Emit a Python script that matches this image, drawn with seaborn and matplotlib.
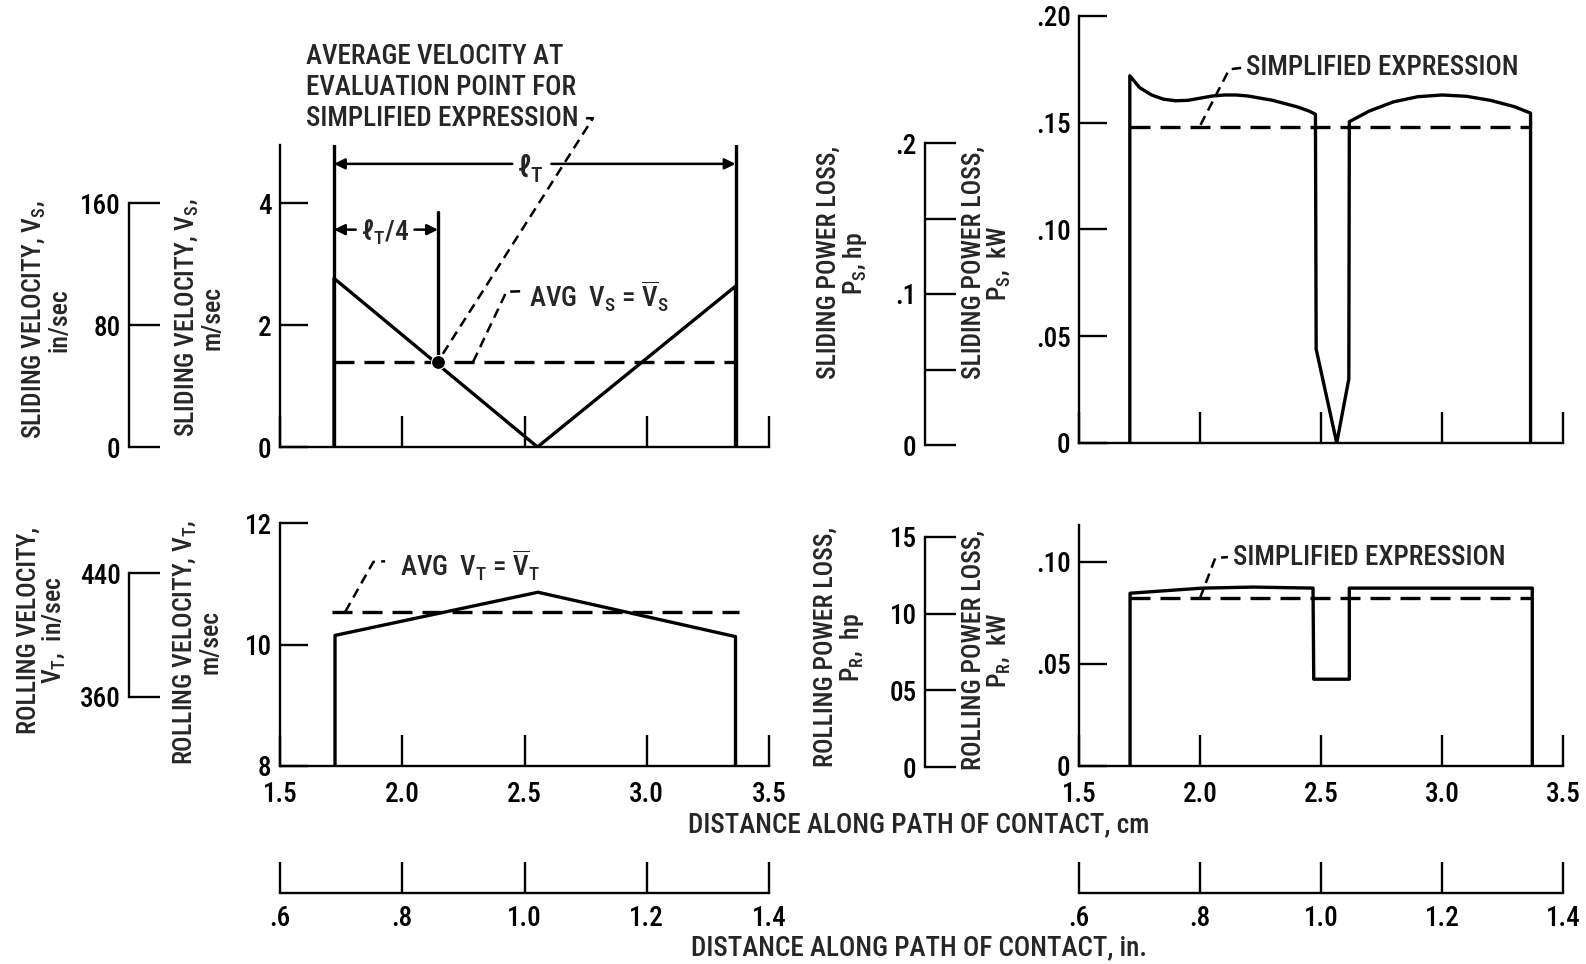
import matplotlib
matplotlib.use("Agg")
import matplotlib.pyplot as plt
import seaborn as sns

# ---------------- data ----------------
cm_ticks = [1.5, 2.0, 2.5, 3.0, 3.5]
cm_labels = ["1.5", "2.0", "2.5", "3.0", "3.5"]
in_ticks = [0.6, 0.8, 1.0, 1.2, 1.4]
in_labels = [".6", ".8", "1.0", "1.2", "1.4"]

# sliding velocity, m/sec
vs_x = [1.721, 1.721, 2.553, 3.363, 3.363]
vs_y = [0.0, 2.77, 0.0, 2.64, 0.0]
vs_avg = 1.40
lt_start, lt_end = 1.721, 3.363
eval_x = 2.146
vs_ticks = [0, 2, 4]
vs_in_ticks = [0, 80, 160]

# rolling velocity, m/sec
vt_x = [1.725, 1.725, 2.555, 3.363, 3.363]
vt_y = [8.0, 10.15, 10.86, 10.13, 8.0]
vt_avg = 10.54
vt_ticks = [8, 10, 12]
vt_in_ticks = [360, 440]

# sliding power loss, kW
ps_x = [1.71, 1.71, 1.75, 1.80, 1.85, 1.90, 1.95, 2.00, 2.05, 2.10, 2.15, 2.20,
        2.25, 2.30, 2.35, 2.40, 2.45, 2.477, 2.48, 2.565, 2.615, 2.617, 2.70,
        2.80, 2.90, 3.00, 3.10, 3.20, 3.30, 3.366, 3.366]
ps_y = [0.0, 0.172, 0.1665, 0.163, 0.161, 0.1603, 0.1605, 0.1615, 0.1625, 0.163,
        0.163, 0.1625, 0.1615, 0.1605, 0.159, 0.1575, 0.1555, 0.154, 0.044, 0.0,
        0.030, 0.1505, 0.1555, 0.1598, 0.1622, 0.163, 0.1624, 0.1605, 0.1575,
        0.1545, 0.0]
ps_simplified = 0.148
ps_ticks = [0, 0.05, 0.10, 0.15, 0.20]
ps_labels = ["0", ".05", ".10", ".15", ".20"]
ps_hp_ticks = [0, 0.05, 0.10, 0.15, 0.20]
ps_hp_labels = ["0", "", ".1", "", ".2"]

# rolling power loss, kW
pr_x = [1.711, 1.711, 2.01, 2.22, 2.467, 2.47, 2.617, 2.617, 3.373, 3.373]
pr_y = [0.0, 0.0846, 0.0871, 0.0876, 0.0871, 0.0425, 0.0425, 0.0871, 0.0871, 0.0]
pr_simplified = 0.0822
pr_ticks = [0, 0.05, 0.10]
pr_labels = ["0", ".05", ".10"]
pr_hp_ticks = [0, 0.05, 0.10, 0.15]
pr_hp_labels = ["0", "05", "10", "15"]

# ---------------- style ----------------
sns.set_theme(style="white")
NARROW = ["Roboto Condensed", "IBM Plex Sans Condensed", "DejaVu Sans"]
plt.rcParams["font.family"] = NARROW
plt.rcParams["font.weight"] = "medium"
plt.rcParams["mathtext.default"] = "regular"

W, H = 1586, 964
fig = plt.figure(figsize=(W / 100, H / 100), dpi=100)
fig.patch.set_facecolor("white")

LW = 2.4
SPW = 1.7
TICKFS = 19.5
ANNFS = 19.5
LABFS = 18.5
WT = "medium"


def add_px(x0, y0, x1, y1):
    return fig.add_axes([x0 / W, 1 - y1 / H, (x1 - x0) / W, (y1 - y0) / H])


def fmt_labels(labels):
    for lab in labels:
        lab.set_family(NARROW)
        lab.set_fontsize(TICKFS)
        lab.set_fontweight(WT)


def style_main(ax, xlim, ylim, yticks, ylabels, show_x):
    ax.set_xlim(*xlim)
    ax.set_ylim(*ylim)
    ax.patch.set_visible(False)
    for s in ["top", "right"]:
        ax.spines[s].set_visible(False)
    for s in ["left", "bottom"]:
        ax.spines[s].set_visible(True)
        ax.spines[s].set_color("black")
        ax.spines[s].set_linewidth(SPW)
    ax.set_xticks(cm_ticks)
    ax.set_xticklabels(cm_labels if show_x else [""] * len(cm_ticks))
    ax.set_yticks(yticks)
    ax.set_yticklabels(ylabels)
    fmt_labels(ax.get_xticklabels() + ax.get_yticklabels())
    ax.tick_params(axis="x", direction="in", length=22, width=SPW, pad=11,
                   bottom=True, colors="black")
    ax.tick_params(axis="y", direction="in", length=20, width=SPW, pad=6,
                   left=True, colors="black")
    ax.set_xlabel("")
    ax.set_ylabel("")


def scale_axis(box, ylim, ticks, labels, bounds):
    ax = add_px(*box)
    ax.set_xlim(0, 1)
    ax.set_ylim(*ylim)
    ax.patch.set_visible(False)
    for s in ["top", "right", "bottom"]:
        ax.spines[s].set_visible(False)
    ax.spines["left"].set_visible(True)
    ax.spines["left"].set_color("black")
    ax.spines["left"].set_linewidth(SPW)
    ax.spines["left"].set_bounds(*bounds)
    ax.set_xticks([])
    ax.set_yticks(ticks)
    ax.set_yticklabels(labels)
    fmt_labels(ax.get_yticklabels())
    ax.tick_params(axis="y", direction="in", length=22, width=SPW, pad=6,
                   left=True, colors="black")
    return ax


def inch_axis(box):
    ax = add_px(*box)
    ax.set_xlim(0.6, 1.4)
    ax.set_ylim(0, 1)
    ax.patch.set_visible(False)
    for s in ["top", "right", "left"]:
        ax.spines[s].set_visible(False)
    ax.spines["bottom"].set_visible(True)
    ax.spines["bottom"].set_color("black")
    ax.spines["bottom"].set_linewidth(SPW)
    ax.set_yticks([])
    ax.set_xticks(in_ticks)
    ax.set_xticklabels(in_labels)
    fmt_labels(ax.get_xticklabels())
    ax.tick_params(axis="x", direction="in", length=22, width=SPW, pad=9,
                   bottom=True, colors="black")
    return ax


def line(ax, x, y, dashed=False, lw=LW, dash=(6, 3)):
    kw = dict(color="black", lw=lw, sort=False, estimator=None, legend=False, ax=ax)
    if dashed:
        kw["linestyle"] = (0, dash)
    sns.lineplot(x=x, y=y, **kw)


def leader(ax, xs, ys):
    ax.plot(xs, ys, color="black", lw=1.8, linestyle=(0, (4, 2.5)), clip_on=False)


def ylab(x, y, s):
    fig.text(x / W, 1 - y / H, s, rotation=90, ha="center", va="center",
             multialignment="center", fontsize=LABFS, family=NARROW,
             fontweight=WT, linespacing=1.0)


def ann(ax, x, y, s, fs=ANNFS, **kw):
    ax.text(x, y, s, fontsize=fs, family=NARROW, fontweight=WT, **kw)


# ---------------- top-left: sliding velocity ----------------
ax_tl = add_px(280, 145, 769, 447)
line(ax_tl, vs_x, vs_y)
line(ax_tl, [lt_start, lt_end], [vs_avg, vs_avg], dashed=True)
top_tl = 4.96
ax_tl.plot([lt_start, lt_start], [0, top_tl], color="black", lw=LW)
ax_tl.plot([lt_end, lt_end], [0, top_tl], color="black", lw=LW)
ax_tl.plot([eval_x, eval_x], [vs_avg, 3.86], color="black", lw=LW)
sns.scatterplot(x=[eval_x], y=[vs_avg], color="black", s=100, ax=ax_tl,
                legend=False, zorder=5)
style_main(ax_tl, (1.5, 3.5), (0, top_tl), vs_ticks, ["0", "2", "4"], False)

arrow_kw = dict(arrowstyle="-|>", color="black", lw=1.8, mutation_scale=16,
                shrinkA=0, shrinkB=0)
ax_tl.annotate("", xy=(lt_start, 4.65), xytext=(2.45, 4.65), arrowprops=arrow_kw)
ax_tl.annotate("", xy=(lt_end, 4.65), xytext=(2.61, 4.65), arrowprops=arrow_kw)
ann(ax_tl, 2.525, 4.58, r"$\ell_{\mathregular{T}}$", fs=22, ha="center", va="center")
ax_tl.annotate("", xy=(lt_start, 3.57), xytext=(1.81, 3.57), arrowprops=arrow_kw)
ax_tl.annotate("", xy=(eval_x, 3.57), xytext=(2.05, 3.57), arrowprops=arrow_kw)
ann(ax_tl, 1.93, 3.52, r"$\ell_{\mathregular{T}}\mathregular{/4}$", fs=20,
    ha="center", va="center")

ann(ax_tl, 1.605, 6.64,
    "AVERAGE VELOCITY AT\nEVALUATION POINT FOR\nSIMPLIFIED EXPRESSION",
    ha="left", va="top", linespacing=1.2)
leader(ax_tl, [eval_x + 0.02, 2.78, 2.73], [vs_avg + 0.13, 5.40, 5.40])
leader(ax_tl, [2.29, 2.426, 2.50], [vs_avg, 2.55, 2.56])
ann(ax_tl, 2.52, 2.47,
    r"AVG  $\mathregular{V_S}$ = $\mathregular{\overline{V}_S}$",
    ha="left", va="center")

scale_axis((129, 145, 175, 447), (0, top_tl * 40), vs_in_ticks,
           ["0", "80", "160"], (0, 160))

ylab(46, 320, "SLIDING VELOCITY, $\\mathregular{V_S}$,\nin/sec")
ylab(199, 318, "SLIDING VELOCITY, $\\mathregular{V_S}$,\nm/sec")

# ---------------- top-right: sliding power loss ----------------
ax_tr = add_px(1079, 16, 1563, 443)
line(ax_tr, ps_x, ps_y)
line(ax_tr, [ps_x[0], ps_x[-1]], [ps_simplified, ps_simplified], dashed=True)
style_main(ax_tr, (1.5, 3.5), (0, 0.20), ps_ticks, ps_labels, False)
leader(ax_tr, [2.002, 2.121, 2.17], [0.149, 0.175, 0.1757])
ann(ax_tr, 2.19, 0.1757, "SIMPLIFIED EXPRESSION", ha="left", va="center")

scale_axis((925, 143, 970, 445), (0, 0.20), ps_hp_ticks, ps_hp_labels, (0, 0.20))

ylab(843, 263, "SLIDING POWER LOSS,\n$\\mathregular{P_S}$, hp")
ylab(987, 263, "SLIDING POWER LOSS,\n$\\mathregular{P_S}$,  kW")

# ---------------- bottom-left: rolling velocity ----------------
ax_bl = add_px(280, 523, 769, 766)
line(ax_bl, vt_x, vt_y)
line(ax_bl, [1.714, 3.378], [vt_avg, vt_avg], dashed=True)
style_main(ax_bl, (1.5, 3.5), (8, 12), vt_ticks, ["8", "10", "12"], True)
leader(ax_bl, [1.767, 1.882, 1.93], [vt_avg, 11.36, 11.37])
ann(ax_bl, 1.99, 11.30,
    r"AVG  $\mathregular{V_T}$ = $\mathregular{\overline{V}_T}$",
    ha="left", va="center")

scale_axis((129, 523, 175, 766), (8 * 39.37, 12 * 39.37), vt_in_ticks,
           ["360", "440"], (360, 440))

ylab(42, 630, "ROLLING VELOCITY,\n$\\mathregular{V_T}$,  in/sec")
ylab(197, 642, "ROLLING VELOCITY, $\\mathregular{V_T}$,\nm/sec")

# ---------------- bottom-right: rolling power loss ----------------
ax_br = add_px(1079, 525, 1563, 766)
line(ax_br, pr_x, pr_y)
line(ax_br, [pr_x[0], pr_x[-1]], [pr_simplified, pr_simplified], dashed=True)
style_main(ax_br, (1.5, 3.5), (0, 0.118), pr_ticks, pr_labels, True)
leader(ax_br, [2.0, 2.063, 2.115], [0.0822, 0.1018, 0.1023])
ann(ax_br, 2.135, 0.1023, "SIMPLIFIED EXPRESSION", ha="left", va="center")

scale_axis((925, 537, 970, 767), (0, 0.15), pr_hp_ticks, pr_hp_labels, (0, 0.15))

ylab(840, 647, "ROLLING POWER LOSS,\n$\\mathregular{P_R}$,  hp")
ylab(987, 650, "ROLLING POWER LOSS,\n$\\mathregular{P_R}$,  kW")

# ---------------- axis titles and inch scales ----------------
fig.text(919 / W, 1 - 825 / H, "DISTANCE ALONG PATH OF CONTACT, cm",
         ha="center", va="center", fontsize=ANNFS, family=NARROW, fontweight=WT)
inch_axis((280, 862, 769, 893))
inch_axis((1079, 862, 1563, 893))
fig.text(919 / W, 1 - 948 / H, "DISTANCE ALONG PATH OF CONTACT, in.",
         ha="center", va="center", fontsize=ANNFS, family=NARROW, fontweight=WT)

fig.savefig("out.png", dpi=100, facecolor="white")
